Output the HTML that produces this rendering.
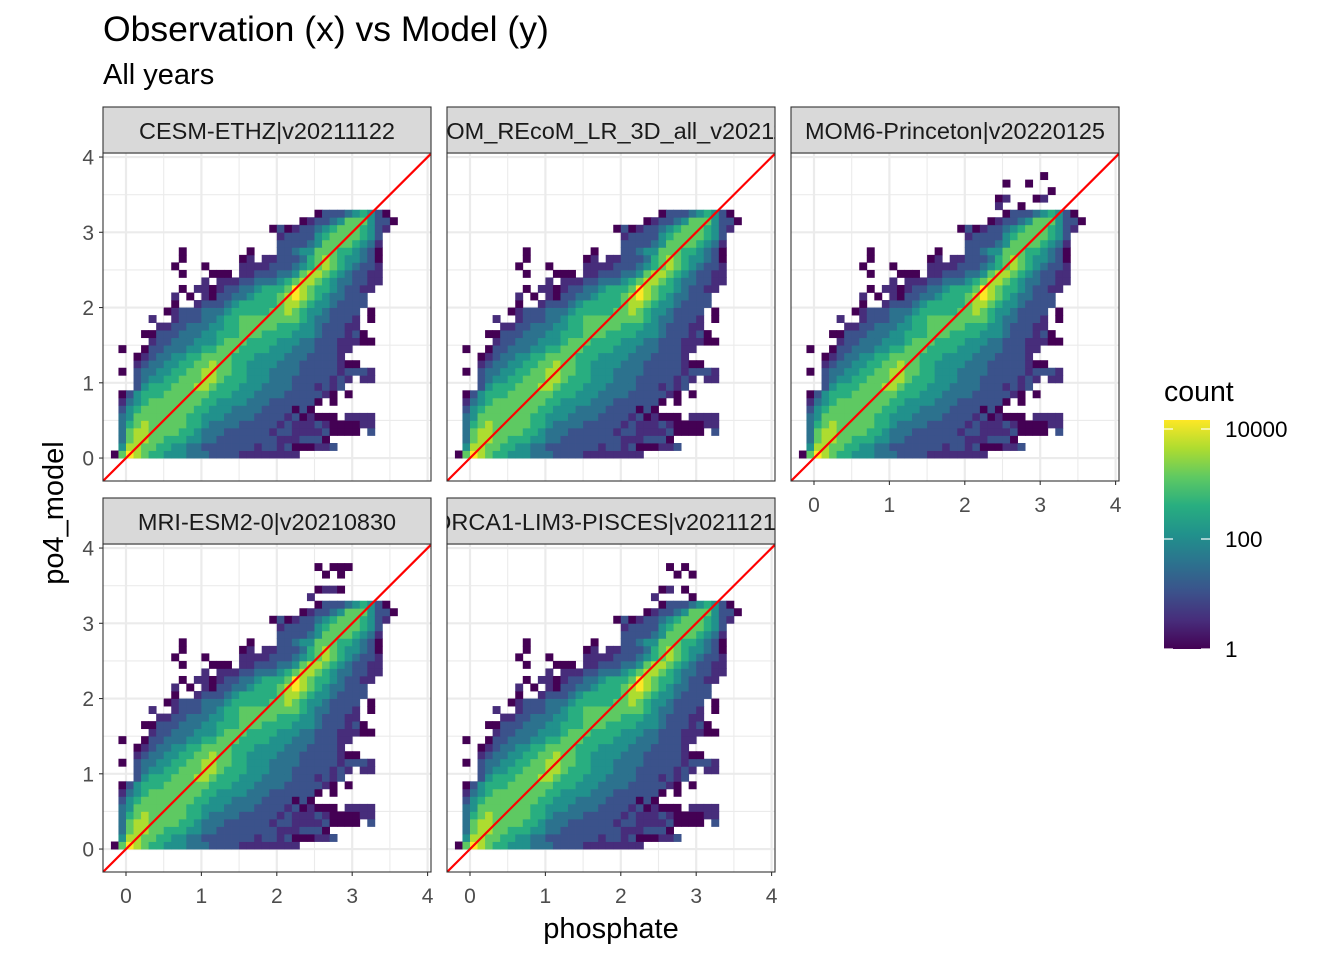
<!DOCTYPE html>
<html><head><meta charset="utf-8"><style>
body{margin:0;background:#fff;}
svg{display:block;font-family:"Liberation Sans",sans-serif;}
</style></head><body>
<svg id="chart" width="1344" height="960" viewBox="0 0 1344 960">
<defs>
<linearGradient id="vir" x1="0" y1="1" x2="0" y2="0">
<stop offset="0" stop-color="#440154"/><stop offset="0.125" stop-color="#472d7b"/><stop offset="0.25" stop-color="#3b528b"/><stop offset="0.375" stop-color="#2c728e"/><stop offset="0.5" stop-color="#21918c"/><stop offset="0.625" stop-color="#28ae80"/><stop offset="0.75" stop-color="#5ec962"/><stop offset="0.875" stop-color="#addc30"/><stop offset="1" stop-color="#fde725"/>
</linearGradient>
</defs>
<text x="103" y="41" font-size="35.5" fill="#000">Observation (x) vs Model (y)</text>
<text x="103" y="84" font-size="29" fill="#000">All years</text>
<text x="611" y="938" font-size="29" text-anchor="middle" fill="#000">phosphate</text>
<text transform="translate(63,513) rotate(-90)" font-size="29" text-anchor="middle" fill="#000">po4_model</text>
<g id="panels"></g>
<g>
<text x="1164" y="401" font-size="28.5" fill="#000">count</text>
<rect x="1164" y="420" width="46" height="229" fill="url(#vir)"/>
<g id="legendticks"></g>
</g>
</svg>
<script>
const NS="http://www.w3.org/2000/svg";
const panelNames=["CESM-ETHZ|v20211122","FESOM_REcoM_LR_3D_all_v20211119","MOM6-Princeton|v20220125","MRI-ESM2-0|v20210830","ORCA1-LIM3-PISCES|v20211215"];
const xTicks=[0,1,2,3,4];
const yTicks=[0,1,2,3,4];
const legendTicks=[1,100,10000];
const levelColors=["#440154","#440154","#472d7b","#3b528b","#2c728e","#21918c","#28ae80","#5ec962","#addc30","#fde725"];
// density level grid (rows from y=0 upward; columns from x=-0.2 in steps of 0.1)
const gridRows=[
"1798766555444333322222222.............",
".58877665544333333323323111223........",
".4788776665544333333332223331.........",
".47887777665444333333233222231111.3...",
".4678777776654444333332322232111122...",
".45777777766555444433332312111.2222...",
".35677777776655544443333131...........",
".245677777776655554443333331.1........",
".13566677777766655544443333321.1......",
"...3566677788766655544443332323.......",
"...34556677788766655544433333232.22...",
".1.34455667788776655544443333323332...",
"...234455667787766555544433333211.....",
"...1234455667777666555544433332.......",
".1..1334445566777666655544433322......",
".....233444555677766665554433322211...",
"....113334445566677766665554333231....",
"......223344455667777766655433322.....",
".....2..2333445667777777765443332.1...",
".......12333444566666778765543333.1...",
"........1..23334566666788765543333....",
"........2.1.2133445666789876544333....",
".........1.221233445666798766543322...",
"............2.2223344456788765443322..",
".........1...111.2233344578876543322..",
"........1...1....2222333456787654332..",
".........1.......12.2233346787655431..",
".........1........1...33455777665431..",
"......................33334577776542..",
"......................23333567777653..",
".....................1312334567776532.",
".........................1233457775331",
"...........................1333456531."
];
// extra sparse cells above the main cloud, per panel: [col,row,level]
const extrasMOM6=[[27,36,1],[30,36,1],[32,37,1],[33,35,1],[26,34,1],[27,34,2],[29,33,1],[31,34,1],[32,34,2],[26,33,2]];
const extrasMRI=[[27,37,1],[29,37,1],[30,37,1],[31,37,1],[28,36,1],[30,36,1],[27,34,1],[28,34,2],[29,34,2],[30,34,1],[26,33,2]];
const extrasORCA=[[28,37,1],[30,37,1],[29,36,1],[31,36,1],[27,34,1],[28,34,2],[30,34,1],[26,33,2],[31,33,1]];
const panelExtras=[[],[],extrasMOM6,extrasMRI,extrasORCA];

const colsX=[103,447,791], rowsY=[153,544], PW=328, PH=328;
const XS=75.4, YS=75.25, X0=-0.305, Y0=-0.305;
function sx(p,x){return p.x+(x-X0)*XS;}
function sy(p,y){return p.y+PH-(y-Y0)*YS;}
function mk(tag,attrs,parent){const e=document.createElementNS(NS,tag);for(const k in attrs)e.setAttribute(k,attrs[k]);parent.appendChild(e);return e;}
const root=document.getElementById("panels");
panelNames.forEach((name,i)=>{
  const p={x:colsX[i%3],y:rowsY[Math.floor(i/3)]};
  const g=mk("g",{},root);
  
  
  const bg=mk("rect",{x:p.x,y:p.y,width:PW,height:PH,fill:"#fff"},g);
  
  
  const clip=mk("clipPath",{id:"c"+i},g);mk("rect",{x:p.x,y:p.y,width:PW,height:PH},clip);
  const inner=mk("g",{"clip-path":"url(#c"+i+")"},g);
  for(let v=-0.5;v<=4.5;v+=0.5){
    const major=Math.abs(v-Math.round(v))<1e-6;
    const w=major?2.2:1.1;
    const gx=mk("line",{x1:sx(p,v),x2:sx(p,v),y1:p.y,y2:p.y+PH,stroke:"#ebebeb","stroke-width":w},inner);
    
    
    const gy=mk("line",{y1:sy(p,v),y2:sy(p,v),x1:p.x,x2:p.x+PW,stroke:"#ebebeb","stroke-width":w},inner);
    
    
  }
  const cells=mk("g",{},inner);
  
  
  const drawCell=(c,r,lv)=>{
    const x=-0.2+0.1*c, y=0.1*r;
    const rc=mk("rect",{x:sx(p,x),y:sy(p,y+0.1),width:0.1*XS+0.4,height:0.1*YS+0.4,fill:levelColors[lv]},cells);
    
    
  };
  gridRows.forEach((row,r)=>{for(let c=0;c<row.length;c++){const ch=row[c];if(ch!=='.')drawCell(c,r,+ch);}});
  panelExtras[i].forEach(e=>drawCell(e[0],e[1],e[2]));
  const ref=mk("line",{x1:sx(p,-0.4),y1:sy(p,-0.4),x2:sx(p,4.2),y2:sy(p,4.2),stroke:"#ff0000","stroke-width":2.2},inner);
  
  
  const bd=mk("rect",{x:p.x,y:p.y,width:PW,height:PH,fill:"none",stroke:"#333","stroke-width":1.1},g);
  
  
  // strip
  const sc=mk("clipPath",{id:"s"+i},g);mk("rect",{x:p.x,y:p.y-46,width:PW,height:46},sc);
  const st=mk("rect",{x:p.x,y:p.y-46,width:PW,height:46,fill:"#d9d9d9",stroke:"#333","stroke-width":1.1},g);
  
  
  const tg=mk("g",{"clip-path":"url(#s"+i+")"},g);
  const tt=mk("text",{x:p.x+PW/2,y:p.y-14,"font-size":"23.5","text-anchor":"middle",fill:"#1a1a1a"},tg);
  tt.textContent=name;
  
  
  // y axis
  if(i%3===0){
    yTicks.forEach(v=>{
      const l=mk("line",{x1:p.x-4,x2:p.x,y1:sy(p,v),y2:sy(p,v),stroke:"#333","stroke-width":1.1},g);
      
      
      const t=mk("text",{x:p.x-9,y:sy(p,v)+7.5,"font-size":"21","text-anchor":"end",fill:"#4d4d4d"},g);
      t.textContent=v;
      
      
    });
  }
  // x axis
  if(i>=2){
    xTicks.forEach(v=>{
      const l=mk("line",{x1:sx(p,v),x2:sx(p,v),y1:p.y+PH,y2:p.y+PH+4,stroke:"#333","stroke-width":1.1},g);
      
      
      const t=mk("text",{x:sx(p,v),y:p.y+PH+31,"font-size":"21","text-anchor":"middle",fill:"#4d4d4d"},g);
      t.textContent=v;
      
      
    });
  }
});
const lt=document.getElementById("legendticks");
legendTicks.forEach(v=>{
  const y=649-Math.log10(v)*55;
  const a=mk("line",{x1:1164,x2:1173,y1:y,y2:y,stroke:"#fff","stroke-width":1.2},lt);
  
  
  const b=mk("line",{x1:1201,x2:1210,y1:y,y2:y,stroke:"#fff","stroke-width":1.2},lt);
  
  
  const t=mk("text",{x:1225,y:y+8,"font-size":"22.5",fill:"#000"},lt);
  t.textContent=v;
  
  
});
</script>
</body></html>
